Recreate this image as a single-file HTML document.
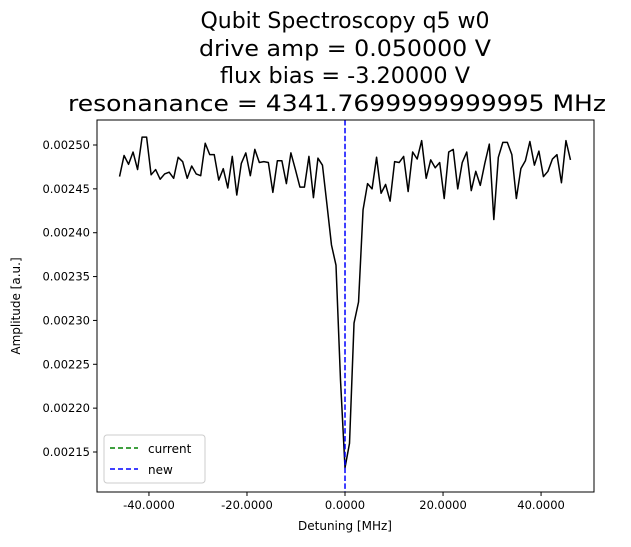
<!DOCTYPE html>
<html><head><meta charset="utf-8"><style>
body{margin:0;background:#fff;font-family:"DejaVu Sans","Liberation Sans",sans-serif}
svg text{font-family:"DejaVu Sans","Liberation Sans",sans-serif}
</style></head><body>
<svg id="chart" width="631" height="543" xmlns="http://www.w3.org/2000/svg">
<g font-size="22" text-anchor="middle" fill="#000">
<text x="345" y="28">Qubit Spectroscopy q5 w0</text>
<text x="345" y="56" textLength="292" lengthAdjust="spacingAndGlyphs">drive amp = 0.050000 V</text>
<text x="345" y="83" textLength="250" lengthAdjust="spacingAndGlyphs">flux bias = -3.20000 V</text>
<text x="337" y="111" textLength="538" lengthAdjust="spacingAndGlyphs">resonanance = 4341.7699999999995 MHz</text>
</g>
<g id="plot"></g>
<text x="345" y="530" font-size="12" text-anchor="middle">Detuning [MHz]</text>
<text transform="translate(20,306) rotate(-90)" font-size="12" text-anchor="middle">Amplitude [a.u.]</text>
<g>
<rect x="104" y="435" width="101" height="48" fill="#fff" stroke="#ccc" rx="3"/>
<line x1="110" y1="448" x2="138" y2="448" stroke="green" stroke-width="1.5" stroke-dasharray="5,3"/>
<text x="148" y="453" font-size="12">current</text>
<line x1="110" y1="469" x2="138" y2="469" stroke="blue" stroke-width="1.5" stroke-dasharray="5,3"/>
<text x="148" y="474" font-size="12">new</text>
</g>
</svg>
<script>
const amplitudes=[0.002464,0.002488,0.002478,0.002492,0.002472,0.002509,0.002509,0.002466,0.002472,0.002461,0.002467,0.002469,0.002462,0.002486,0.002481,0.002462,0.002476,0.002467,0.002465,0.002502,0.002489,0.002489,0.002460,0.002473,0.002451,0.002487,0.002443,0.002479,0.002491,0.002465,0.002495,0.002480,0.002481,0.002480,0.002446,0.002482,0.002482,0.002456,0.002491,0.002472,0.002452,0.002452,0.002487,0.002440,0.002485,0.002477,
0.002432,0.002386,0.002363,0.002232,0.002132,0.002160,0.002297,0.002321,
0.002426,0.002456,0.002450,0.002486,0.002445,0.002455,0.002436,0.002481,0.002480,0.002487,0.002447,0.002492,0.002484,0.002505,0.002462,0.002483,0.002474,0.002480,0.002439,0.002492,0.002495,0.002450,0.002480,0.002492,0.002448,0.002470,0.002454,0.002479,0.002501,0.002415,0.002486,0.002503,0.002503,0.002489,0.002439,0.002473,0.002482,0.002504,0.002477,0.002493,0.002464,0.002470,0.002484,0.002489,0.002457,0.002505,0.002483];
const detuningStart=-46, detuningEnd=46;
const xTicks=[-40,-20,0,20,40];
const xTickLabels=["-40.0000","-20.0000","0.0000","20.0000","40.0000"];
const yTicks=[0.00215,0.00220,0.00225,0.00230,0.00235,0.00240,0.00245,0.00250];
const yTickLabels=["0.00215","0.00220","0.00225","0.00230","0.00235","0.00240","0.00245","0.00250"];
const newDetuning=[0];
const L=97,R=594,T=120,B=492;
const xmin=-50.6,xmax=50.8,ymin=0.0021044,ymax=0.0025285;
const sx=v=>L+(v-xmin)/(xmax-xmin)*(R-L);
const sy=v=>B-(v-ymin)/(ymax-ymin)*(B-T);
const NS="http://www.w3.org/2000/svg";
const g=document.getElementById('plot');
function mk(t,a,p){const e=document.createElementNS(NS,t);for(const k in a)e.setAttribute(k,a[k]);(p||g).appendChild(e);return e;}
const n=amplitudes.length;
let pts=amplitudes.map((v,i)=>{const x=detuningStart+(detuningEnd-detuningStart)*i/(n-1);return sx(x).toFixed(2)+','+sy(v).toFixed(2);}).join(' ');
const line=mk('polyline',{points:pts,fill:'none',stroke:'#000','stroke-width':1.5,'stroke-linejoin':'round'});


newDetuning.forEach(d=>{const vl=mk('line',{x1:sx(d),x2:sx(d),y1:T,y2:B,stroke:'blue','stroke-width':1.5,'stroke-dasharray':'5.5,2.4'});

});
const frame=mk('rect',{x:L,y:T,width:R-L,height:B-T,fill:'none',stroke:'#000','stroke-width':1});


xTicks.forEach((t,i)=>{const x=sx(t);mk('line',{x1:x,x2:x,y1:B,y2:B+4,stroke:'#000'});
const tx=mk('text',{x:x,y:B+17,'font-size':11.5,'text-anchor':'middle'});tx.textContent=xTickLabels[i];

});
yTicks.forEach((t,i)=>{const y=sy(t);mk('line',{x1:L-4,x2:L,y1:y,y2:y,stroke:'#000'});
const tx=mk('text',{x:L-7,y:y+4,'font-size':11.5,'text-anchor':'end'});tx.textContent=yTickLabels[i];

});
</script>
</body></html>
